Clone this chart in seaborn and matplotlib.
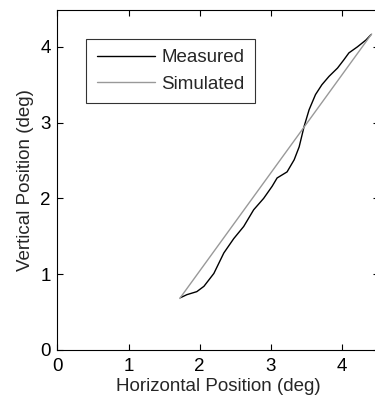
import matplotlib
matplotlib.use("Agg")
import matplotlib.pyplot as plt
import seaborn as sns
import pandas as pd

meas_x = [1.73, 1.82, 1.96, 2.06, 2.20, 2.34, 2.48, 2.62, 2.76, 2.90, 3.02, 3.09, 3.23,
          3.33, 3.40, 3.47, 3.54, 3.63, 3.72, 3.82, 3.94, 4.03, 4.10, 4.22, 4.34, 4.41]
meas_y = [0.69, 0.73, 0.77, 0.84, 1.01, 1.28, 1.47, 1.63, 1.85, 2.00, 2.16, 2.27, 2.35,
          2.51, 2.68, 2.95, 3.17, 3.37, 3.50, 3.61, 3.72, 3.83, 3.92, 4.00, 4.09, 4.16]
sim_x = [1.72, 4.42]
sim_y = [0.68, 4.17]
xticks = [0, 1, 2, 3, 4]
yticks = [0, 1, 2, 3, 4]

sns.set_style("ticks")
plt.rcParams['font.family'] = ['Liberation Sans', 'DejaVu Sans']

fig = plt.figure(figsize=(3.75, 4.07), dpi=100)
ax = fig.add_axes([57.5/375, (407-350)/407, (375-57.5)/375 + 0.01, (350-9.7)/407])

df_m = pd.DataFrame({"x": meas_x, "y": meas_y})
df_s = pd.DataFrame({"x": sim_x, "y": sim_y})
sns.lineplot(data=df_m, x="x", y="y", ax=ax, color="black", lw=1.0, sort=False,
             label="Measured", estimator=None)
sns.lineplot(data=df_s, x="x", y="y", ax=ax, color="#999999", lw=1.0, sort=False,
             label="Simulated", estimator=None)

fs = 13.5
ax.set_xlim(0, 4.52)
ax.set_ylim(0, 4.49)
ax.set_xticks(xticks)
ax.set_yticks(yticks)
ax.tick_params(direction="in", length=4, width=0.8, top=True, right=True,
               labelsize=fs, colors="black")
ax.tick_params(axis="x", pad=6)
ax.tick_params(axis="y", pad=5)
for s in ax.spines.values():
    s.set_linewidth(0.8)
    s.set_color("black")
ax.set_xlabel("Horizontal Position (deg)", fontsize=fs, labelpad=2)
ax.set_ylabel("Vertical Position (deg)", fontsize=fs, labelpad=4)
leg = ax.legend(loc="upper left", bbox_to_anchor=(0.09, 0.915), fontsize=fs,
                frameon=True, fancybox=False, edgecolor="black", handlelength=3.1,
                borderpad=0.55, labelspacing=0.5, handletextpad=0.35, borderaxespad=0)
leg.get_frame().set_linewidth(0.8)

fig.savefig("out.png", dpi=100)
